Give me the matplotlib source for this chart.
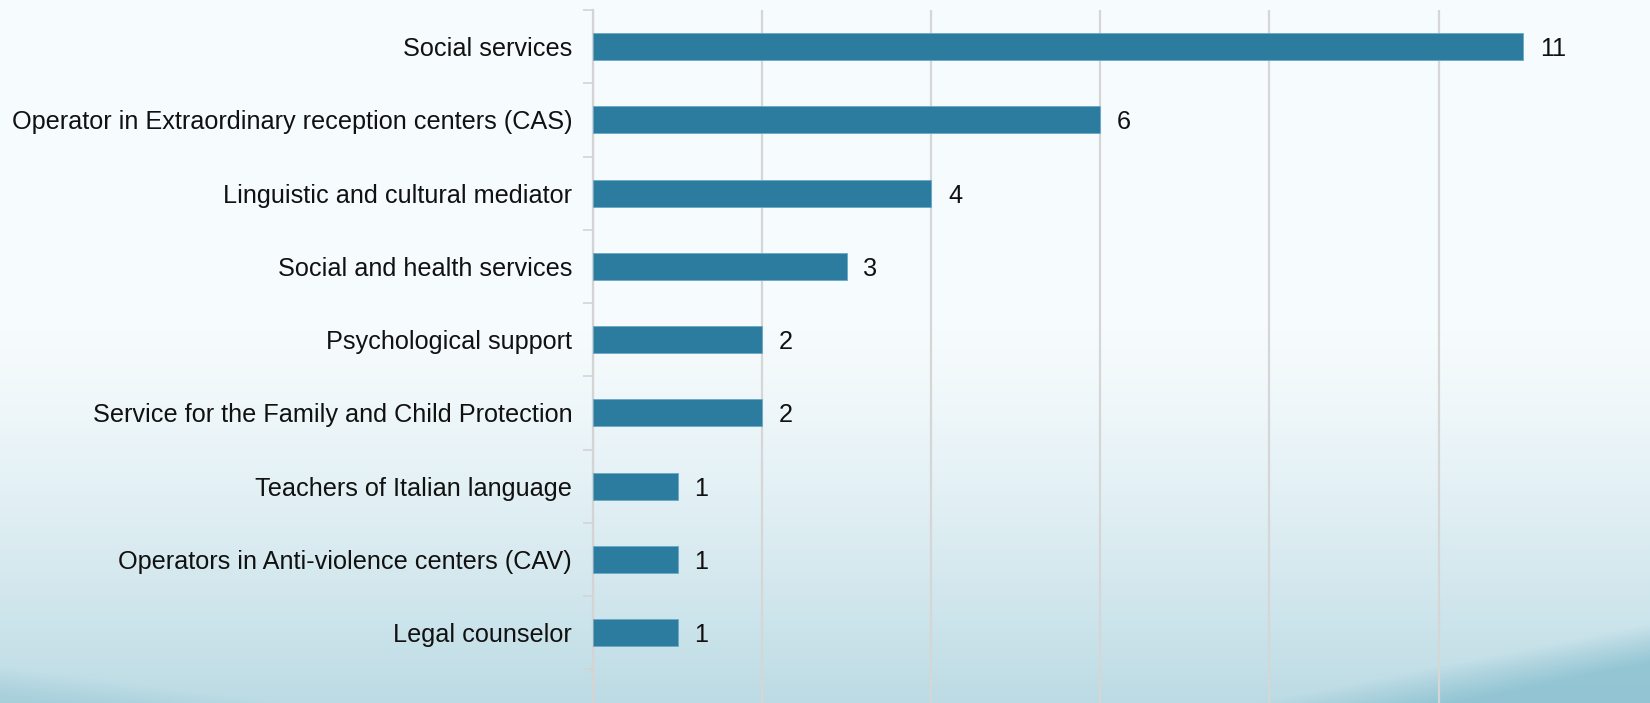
import numpy as np
import matplotlib
matplotlib.use("Agg")
import matplotlib.pyplot as plt
from matplotlib.colors import to_rgb

plt.rcParams['font.family'] = ['Liberation Sans', 'DejaVu Sans']

# data, top to bottom
categories = [
    "Social services",
    "Operator in Extraordinary reception centers (CAS)",
    "Linguistic and cultural mediator",
    "Social and health services",
    "Psychological support",
    "Service for the Family and Child Protection",
    "Teachers of Italian language",
    "Operators in Anti-violence centers (CAV)",
    "Legal counselor",
]
counts = [11, 6, 4, 3, 2, 2, 1, 1, 1]

W, H = 1650, 703
fig = plt.figure(figsize=(W / 100, H / 100), dpi=100)

# background: pale gradient with a darker wave in the bottom corners
bg = fig.add_axes([0, 0, 1, 1], zorder=-10)
yy, xx = np.mgrid[0:H, 0:W]
top = np.array(to_rgb("#f6fbfd"))
bot = np.array(to_rgb("#bcdbe4"))
t = np.clip((yy - 330) / (H - 330), 0, 1) ** 1.3
img = top[None, None, :] * (1 - t[..., None]) + bot[None, None, :] * t[..., None]
dark = np.array(to_rgb("#88bfcf"))
# right wave
wave_r = H - (xx - 1250) * 0.2
wr = np.clip((yy - wave_r) / 40, 0, 1) * ((yy > wave_r) & (xx > 1250)) * 0.8
img = img * (1 - wr[..., None]) + dark[None, None, :] * wr[..., None]
# left wave
wave_l = 665 + xx * 0.13
wl = np.clip((yy - wave_l) / 30, 0, 1) * ((yy > wave_l) & (xx < 320)) * 0.4
img = img * (1 - wl[..., None]) + dark[None, None, :] * wl[..., None]
bg.imshow(img, aspect="auto", extent=[0, W, H, 0])
bg.axis("off")

# main axes
x0 = 593 / W
y_top = 10
ax = fig.add_axes([x0, 0, 1 - x0, (H - y_top) / H])
ax.patch.set_alpha(0)

ypos = np.arange(len(categories))
bars = ax.barh(ypos, counts, height=0.37, color="#2c7ca0",
               edgecolor="#6aa9c6", linewidth=0.6, zorder=3)

span = (H - y_top) / 73.25
ax.set_ylim(-0.5 + span, -0.5)
ax.set_xlim(0, 12.5)

ax.set_yticks(ypos)
ax.set_yticklabels(categories, fontsize=18.2, color="#111111")
ax.set_yticks(np.arange(-0.5, len(categories), 1.0), minor=True)
ax.tick_params(axis="y", which="major", length=0, pad=15)
ax.tick_params(axis="y", which="minor", length=7, width=1.2, color="#d4d4d4")

ax.set_xticks(np.arange(0, 11, 2))
ax.set_xticklabels([])
ax.tick_params(axis="x", length=0)
ax.grid(axis="x", color="#d6d6d6", linewidth=1.6, zorder=0)

for s in ["top", "right", "bottom"]:
    ax.spines[s].set_visible(False)
ax.spines["left"].set_color("#d4d4d4")
ax.spines["left"].set_linewidth(1.6)

for b, v in zip(bars, counts):
    ax.annotate(str(v), (b.get_width(), b.get_y() + b.get_height() / 2),
                xytext=(12, 0), textcoords="offset points",
                va="center_baseline", ha="left", fontsize=18.2, color="#111111")

fig.savefig("out.png", dpi=100)
